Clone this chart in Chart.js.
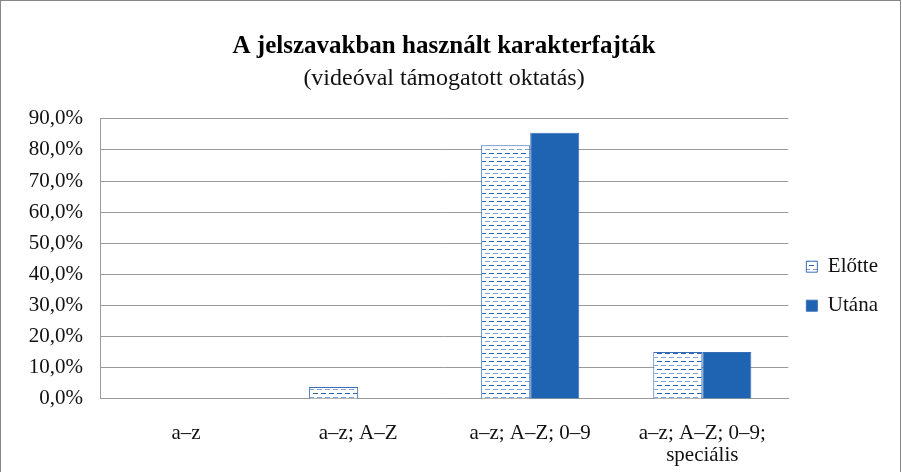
<!DOCTYPE html>
<html>
<head>
<meta charset="utf-8">
<script src="https://cdn.jsdelivr.net/npm/chart.js@4"></script>
<style>
    body { margin: 0; background: #fff; }
    #frame { position: absolute; left: 0; top: 0; width: 899px; height: 490px; border: 1px solid #868686; }
    #wrap { position: absolute; left: 0; top: 0; width: 902px; height: 472px; }
</style>
</head>
<body>
<div id="frame"></div>
<div id="wrap"><canvas id="chart"></canvas></div>
<script>
// Data
const categories = ['a–z', 'a–z; A–Z', 'a–z; A–Z; 0–9', ['a–z; A–Z; 0–9;', 'speciális']];
const seriesNames = ['Előtte', 'Utána'];
const elotte = [0, 3.8, 81.5, 15.1];
const utana = [0, 0, 85.5, 15.1];
const yTicks = [0, 10, 20, 30, 40, 50, 60, 70, 80, 90];

const BLUE = '#1F63B3';
const FONT = "'Liberation Serif', 'Times New Roman', serif";

// dashed fill for the "before" bars
function makePattern() {
    const c = document.createElement('canvas');
    c.width = 8;
    c.height = 8;
    const p = c.getContext('2d');
    p.fillStyle = '#fff';
    p.fillRect(0, 0, 8, 8);
    p.fillStyle = '#2A62B2';
    p.fillRect(1, 1, 5, 1);
    p.fillStyle = '#86A5D6';
    p.fillRect(5, 5, 3, 1);
    p.fillRect(0, 5, 2, 1);
    return p.createPattern(c, 'repeat');
}

const ctx = document.getElementById('chart').getContext('2d');
new Chart(ctx, {
    type: 'bar',
    data: {
        labels: categories,
        datasets: [
            {
                label: seriesNames[0],
                data: elotte,
                backgroundColor: makePattern(),
                borderColor: '#3A6DB8',
                borderWidth: 1,
                categoryPercentage: 0.57,
                barPercentage: 1
            },
            {
                label: seriesNames[1],
                data: utana,
                backgroundColor: BLUE,
                borderColor: '#3A6DB8',
                borderWidth: 1,
                categoryPercentage: 0.57,
                barPercentage: 1
            }
        ]
    },
    options: {
        responsive: true,
        maintainAspectRatio: false,
        animation: false,
        layout: { padding: { left: 0, right: 14, top: 22, bottom: -19 } },
        scales: {
            x: {
                grid: { display: false, drawTicks: false },
                border: { color: '#9A9A9A', width: 1 },
                ticks: { color: '#111', font: { family: FONT, size: 21, lineHeight: 1.05 }, padding: 24, maxRotation: 0, autoSkip: false }
            },
            y: {
                min: 0,
                max: 90,
                afterBuildTicks: axis => { axis.ticks = yTicks.map(v => ({ value: v })); },
                afterFit: axis => { axis.width = 100; },
                grid: { color: '#9A9A9A', drawTicks: false },
                border: { color: '#9A9A9A', width: 1 },
                ticks: {
                    color: '#111',
                    font: { family: FONT, size: 21 },
                    padding: 17,
                    callback: v => v.toFixed(1).replace('.', ',') + '%'
                }
            }
        },
        plugins: {
            title: {
                display: true,
                text: 'A jelszavakban használt karakterfajták',
                color: '#000',
                font: { family: FONT, size: 25, weight: 'bold' },
                padding: { top: 10, bottom: 2 }
            },
            subtitle: {
                display: true,
                text: '(videóval támogatott oktatás)',
                color: '#111',
                font: { family: FONT, size: 24 },
                padding: { top: 0, bottom: 26 }
            },
            legend: {
                position: 'right',
                align: 'start',
                title: { display: true, text: ' ', font: { size: 1 }, padding: { top: 215, bottom: 0 } },
                labels: {
                    color: '#111',
                    font: { family: FONT, size: 21 },
                    boxWidth: 11,
                    boxHeight: 11,
                    padding: 18
                }
            },
            tooltip: { enabled: false }
        }
    }
});
</script>
</body>
</html>
